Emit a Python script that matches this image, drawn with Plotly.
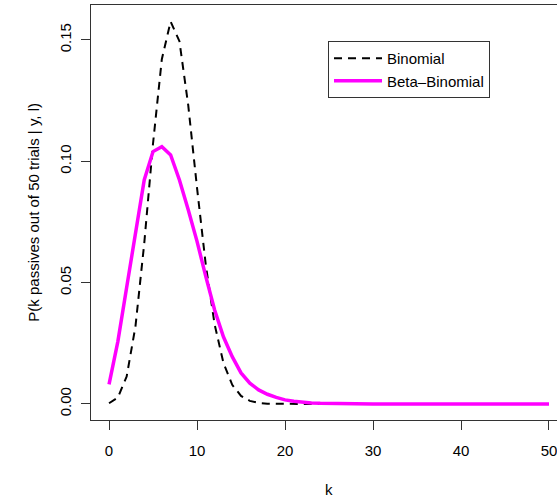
import plotly.graph_objects as go

k = list(range(0, 51))

binomial = [0.000296, 0.002612, 0.011293, 0.031887, 0.066118, 0.107344, 0.142073,
            0.157596, 0.149482, 0.123103, 0.089067, 0.057155, 0.032781, 0.016910,
            0.007886, 0.003340, 0.001289, 0.000455, 0.000147, 0.000044, 0.000012,
            0.000003] + [0.0] * 29

beta_binomial = [0.0081, 0.0257, 0.0480, 0.0710, 0.0923, 0.1040, 0.1060, 0.1026,
                 0.0923, 0.0800, 0.0670, 0.0525, 0.0387, 0.0277, 0.0195, 0.0128,
                 0.0086, 0.0058, 0.0040, 0.0027, 0.0017, 0.0011, 0.0007, 0.00045,
                 0.0003, 0.0002, 0.00012, 0.00008, 0.00005, 0.00003, 0.00002,
                 0.00001] + [0.0] * 19

x_ticks = [0, 10, 20, 30, 40, 50]
y_ticks = [0.00, 0.05, 0.10, 0.15]
y_tick_labels = ["0.00", "0.05", "0.10", "0.15"]

FONT = "Liberation Sans, Arial, Helvetica, sans-serif"
FS = 15

fig = go.Figure()
fig.add_trace(go.Scatter(x=k, y=binomial, mode="lines", name="Binomial",
                         line=dict(color="black", width=2, dash="8px,6px")))
fig.add_trace(go.Scatter(x=k, y=beta_binomial, mode="lines", name="Beta\u2013Binomial",
                         line=dict(color="#FF00FF", width=3.5)))

fig.update_layout(
    width=557, height=500,
    margin=dict(l=91, r=0, t=5, b=80),
    plot_bgcolor="white", paper_bgcolor="white",
    font=dict(family=FONT, size=FS, color="black"),
    showlegend=True,
    legend=dict(x=0.5086, y=0.913, xanchor="left", yanchor="top",
                bordercolor="#333333", borderwidth=1, bgcolor="white",
                font=dict(size=FS), tracegroupgap=0, itemwidth=48),
    xaxis=dict(range=[-2.05, 50.91], tickvals=x_ticks, ticks="outside", ticklen=9,
               tickcolor="#333333", showline=True, linecolor="#333333", linewidth=1,
               mirror=True, showgrid=False, zeroline=False,
               tickfont=dict(size=FS), ticklabelstandoff=8,
               ticklabeloverflow="allow"),
    yaxis=dict(range=[-0.0066, 0.1644], tickvals=y_ticks, ticktext=y_tick_labels,
               ticks="outside", ticklen=9, tickcolor="#333333", showline=True,
               linecolor="#333333", linewidth=1, showgrid=False, zeroline=False,
               tickangle=-90, tickfont=dict(size=FS), ticklabelstandoff=4),
    annotations=[
        dict(text="k", xref="x", yref="paper", x=25, y=-0.168, showarrow=False,
             xanchor="center", yanchor="middle", font=dict(size=FS)),
        dict(text="P(k passives out of 50 trials | y, l)", xref="paper", yref="paper",
             x=-0.124, y=0.50, textangle=-90, showarrow=False,
             xanchor="center", yanchor="middle", font=dict(size=FS)),
    ],
)

fig.write_html("out.html")
